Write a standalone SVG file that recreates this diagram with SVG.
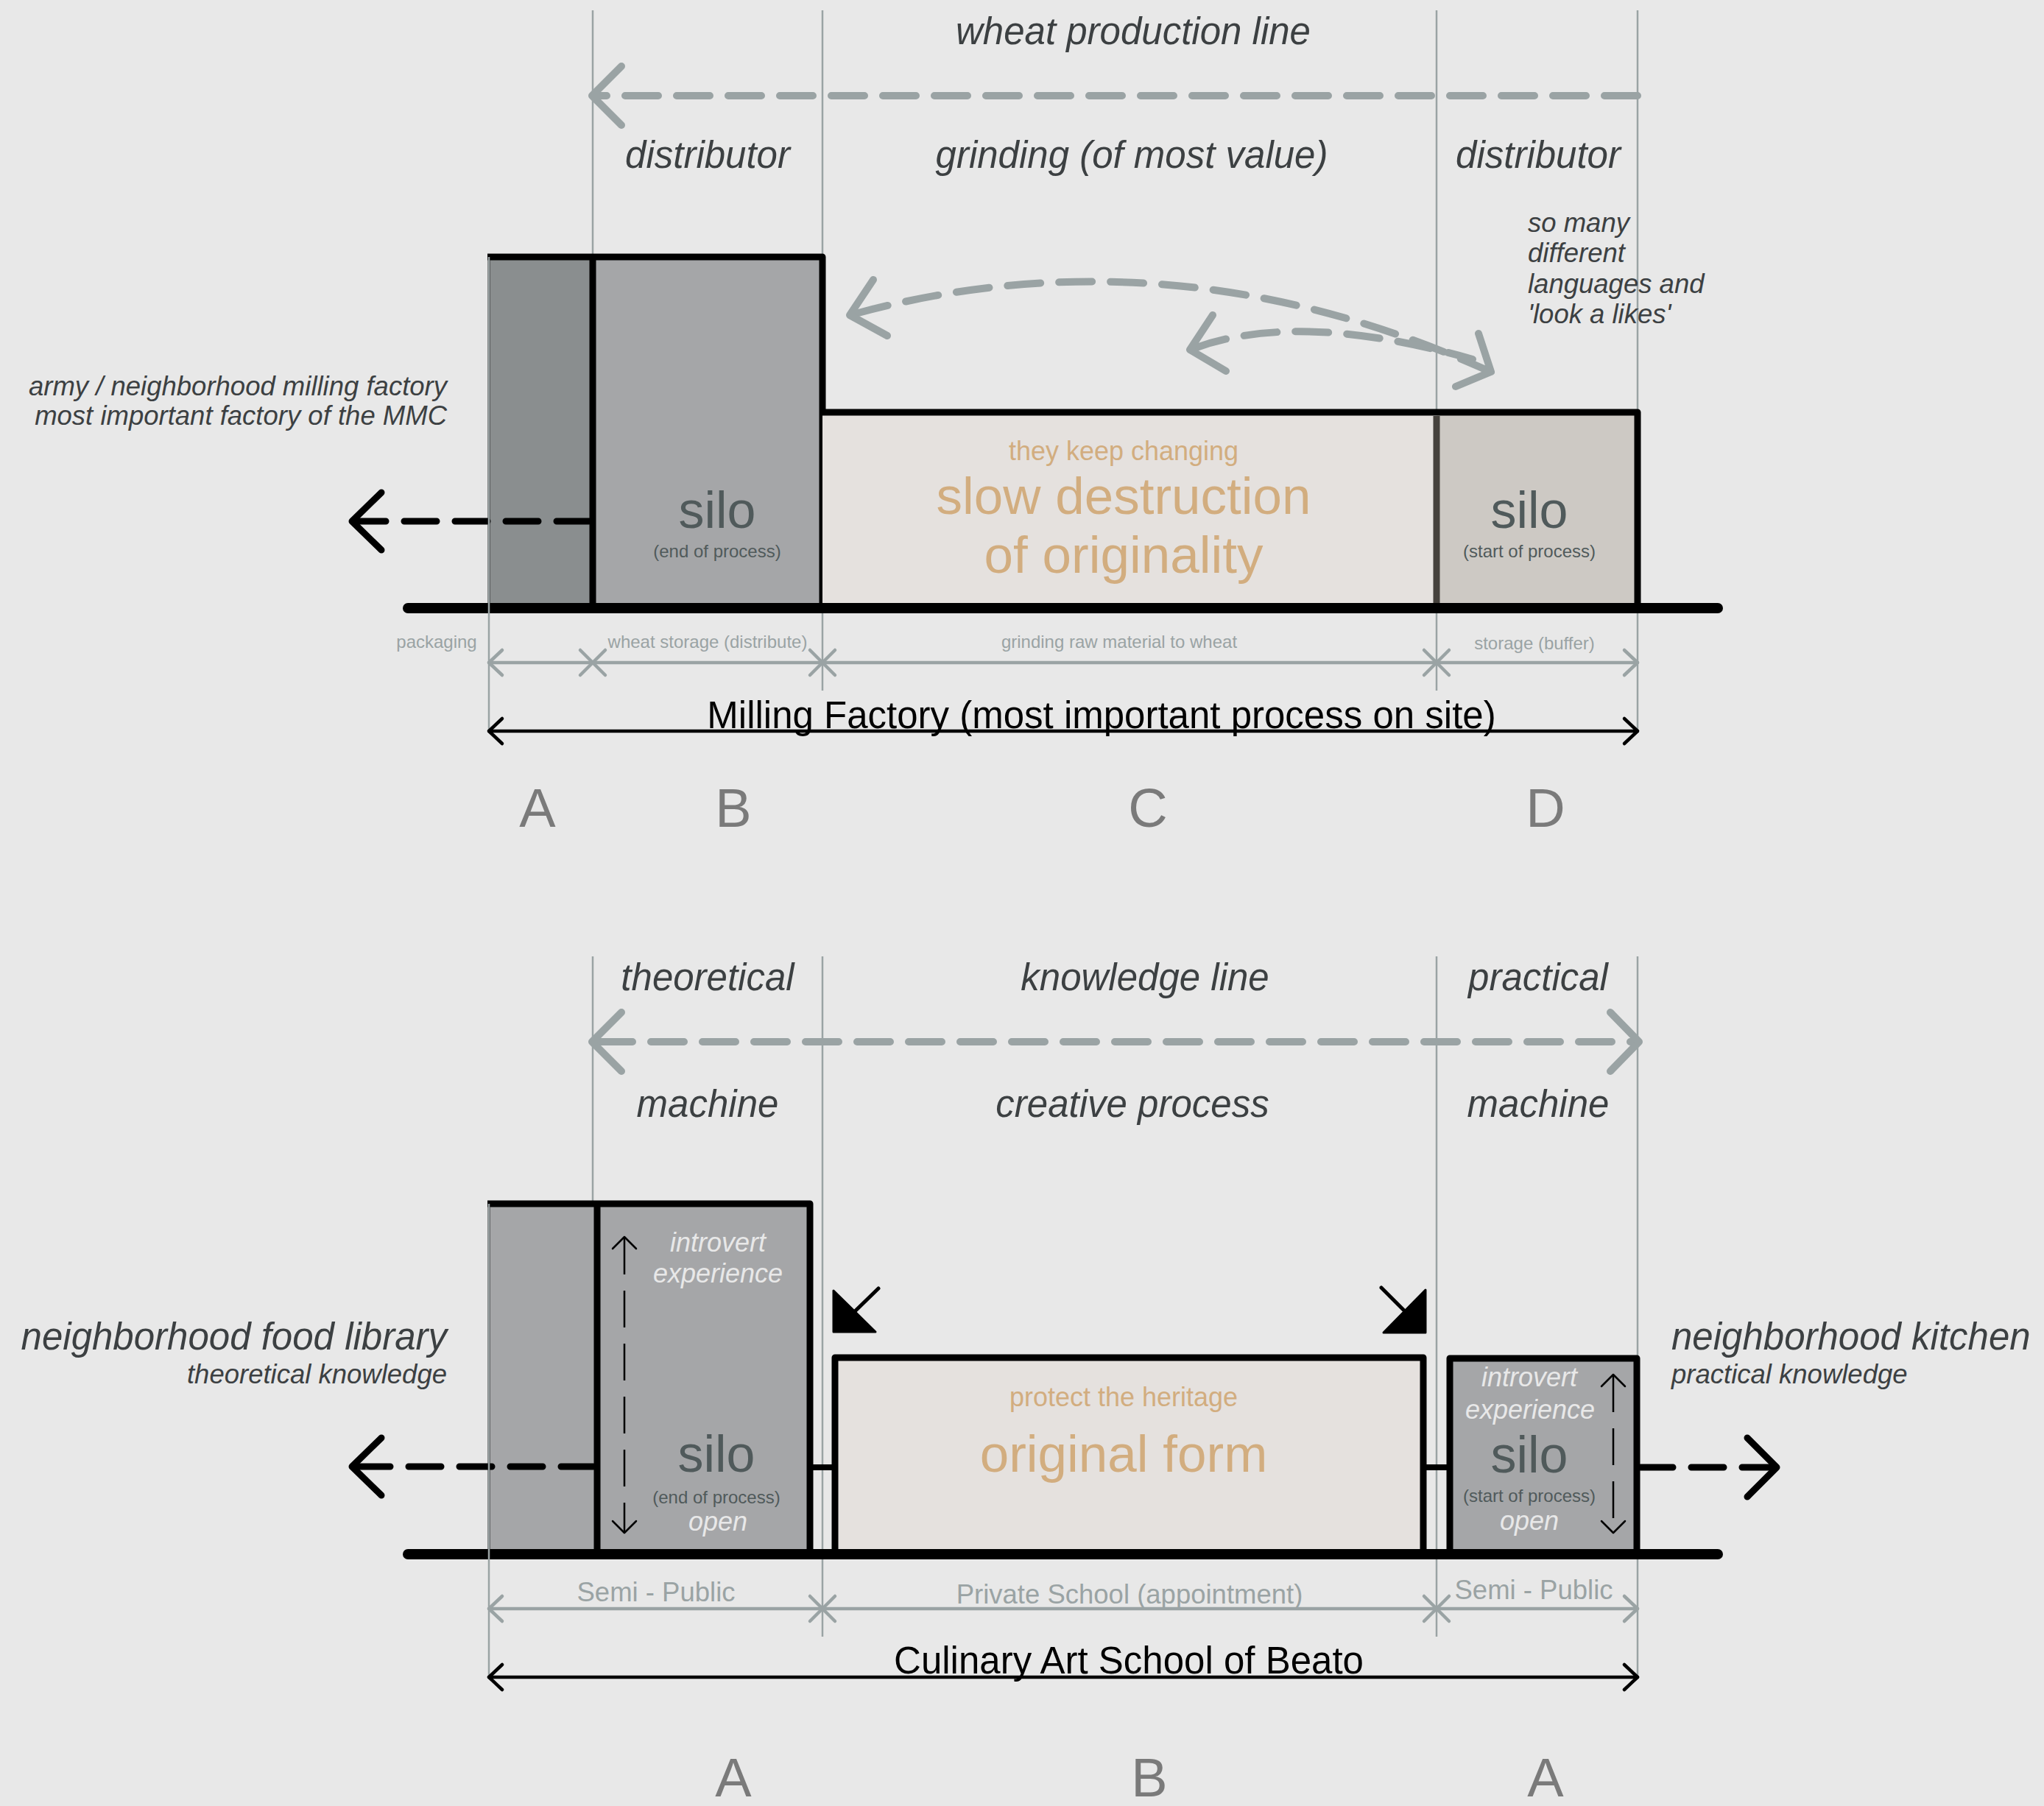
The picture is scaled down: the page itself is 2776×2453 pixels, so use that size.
<svg xmlns="http://www.w3.org/2000/svg" width="2776" height="2453" viewBox="0 0 2776 2453">
<style>
text{font-family:"Liberation Sans",Arial,sans-serif}
.h50{font-size:51px;fill:#3c4042;font-style:italic;text-anchor:middle}
.s36{font-size:36.5px;fill:#3c4042;font-style:italic}
.tan36{font-size:36px;fill:#d2ad7f;text-anchor:middle}
.tan70{font-size:71px;fill:#d2ad7f;text-anchor:middle}
.silo{font-size:70px;fill:#505a5b;text-anchor:middle}
.sub{font-size:24px;fill:#505a5b;text-anchor:middle}
.wt{font-size:36px;fill:#e8e8e8;font-style:italic;text-anchor:middle}
.dim24{font-size:24px;fill:#9aa3a4;text-anchor:middle}
.dim36{font-size:36.5px;fill:#9aa3a4;text-anchor:middle}
.big{font-size:51px;fill:#000;text-anchor:middle}
.let{font-size:74px;fill:#7a7a7a;text-anchor:middle}
text.end{text-anchor:end}
text.start{text-anchor:start}
.guide{stroke:#9aa3a4;stroke-width:2.5;fill:none}
.gdim{stroke:#9aa3a4;stroke-width:4.5;fill:none;stroke-linecap:round;stroke-linejoin:round}
.bdim{stroke:#000;stroke-width:4.5;fill:none;stroke-linecap:round;stroke-linejoin:round}
.gdash{stroke:#9aa3a4;stroke-width:10;fill:none;stroke-linecap:round;stroke-dasharray:45 25}
.ghead{stroke:#9aa3a4;stroke-width:10;fill:none;stroke-linecap:round;stroke-linejoin:round}
.bdash{stroke:#000;stroke-width:9;fill:none;stroke-linecap:round;stroke-dasharray:44 25}
.bhead{stroke:#000;stroke-width:9;fill:none;stroke-linecap:round;stroke-linejoin:round}
.edge{stroke:#000;stroke-width:9;fill:none;stroke-linejoin:round;stroke-linecap:butt}
.ground{stroke:#000;stroke-width:14;stroke-linecap:round}
.thin{stroke:#000;stroke-width:2.5;fill:none;stroke-linecap:round;stroke-linejoin:round}
.thindash{stroke:#000;stroke-width:2.5;fill:none;stroke-dasharray:50 22}
</style>
<rect x="0" y="0" width="2776" height="2453" fill="#e8e8e8"/>

<g id="guides">
<line class="guide" x1="805" y1="14" x2="805" y2="349"/>
<line class="guide" x1="1117" y1="14" x2="1117" y2="938"/>
<line class="guide" x1="1951" y1="14" x2="1951" y2="938"/>
<line class="guide" x1="2224" y1="14" x2="2224" y2="993"/>
<line class="guide" x1="805" y1="1299" x2="805" y2="1635"/>
<line class="guide" x1="1117" y1="1299" x2="1117" y2="2223"/>
<line class="guide" x1="1951" y1="1299" x2="1951" y2="2223"/>
<line class="guide" x1="2224" y1="1299" x2="2224" y2="2278"/>
</g>

<!-- TOP SECTION -->
<g id="top-titles">
<text class="h50" x="1539" y="60">wheat production line</text>
<text class="h50" x="961" y="228">distributor</text>
<text class="h50" x="1537" y="228">grinding (of most value)</text>
<text class="h50" x="2089" y="228">distributor</text>
<text class="s36" x="2075" y="315">so many</text>
<text class="s36" x="2075" y="356">different</text>
<text class="s36" x="2075" y="398">languages and</text>
<text class="s36" x="2075" y="439">'look a likes'</text>
<text class="s36 end" x="607" y="537">army / neighborhood milling factory</text>
<text class="s36 end" x="607" y="577">most important factory of the MMC</text>
</g>

<g id="top-A">
<rect x="664" y="349" width="141" height="476" fill="#8a8e8f"/>
<line x1="664" y1="349" x2="664" y2="825" stroke="#000" stroke-width="3"/>
</g>
<g id="top-B">
<rect x="805" y="349" width="312" height="476" fill="#a5a6a8"/>
<path class="edge" d="M662 349 H1117 V825"/>
<line class="edge" x1="805" y1="349" x2="805" y2="825"/>
<text class="silo" x="974" y="717">silo</text>
<text class="sub" x="974" y="757">(end of process)</text>
</g>
<g id="top-C">
<rect x="1117" y="560" width="834" height="265" fill="#e5e1de"/>
<path class="edge" d="M1117 560 H1951"/>
<text class="tan36" x="1526" y="625">they keep changing</text>
<text class="tan70" x="1526" y="698">slow destruction</text>
<text class="tan70" x="1526" y="778">of originality</text>
</g>
<g id="top-D">
<rect x="1951" y="560" width="273" height="265" fill="#cdc9c4"/>
<path class="edge" d="M1951 560 H2224 V825"/>
<line x1="1951" y1="565" x2="1951" y2="825" stroke="#45413c" stroke-width="9"/>
<text class="silo" x="2077" y="717">silo</text>
<text class="sub" x="2077" y="757">(start of process)</text>
</g>
<line id="top-ground" class="ground" x1="554" y1="826" x2="2333" y2="826"/>

<g id="top-connectors">
<path class="gdash" d="M2224 130 H812"/>
<path class="ghead" d="M844 90 L804 130 L844 170"/>
<path class="gdash" d="M1162 426 Q1590 310 2020 503"/>
<path class="ghead" d="M1186 380 L1154 428 L1205 456"/>
<path class="ghead" d="M2008 453 L2025 505 L1977 525"/>
<path class="gdash" d="M1622 473 Q1765 421 2000 488"/>
<path class="ghead" d="M1647 428 L1616 475 L1665 504"/>
<path class="bdash" d="M800 708 H486"/>
<path class="bhead" d="M518 669 L478 708 L518 747"/>
</g>

<g id="top-dims">
<line class="guide" x1="664" y1="349" x2="664" y2="993"/>
<line class="gdim" x1="664" y1="900" x2="2224" y2="900"/>
<path class="gdim" d="M682 883 L664 900 L682 917"/>
<path class="gdim" d="M788 883 L822 917 M822 883 L788 917"/>
<path class="gdim" d="M1100 883 L1134 917 M1134 883 L1100 917"/>
<path class="gdim" d="M1934 883 L1968 917 M1968 883 L1934 917"/>
<path class="gdim" d="M2206 883 L2224 900 L2206 917"/>
<text class="dim24" x="593" y="880">packaging</text>
<text class="dim24" x="961" y="880">wheat storage (distribute)</text>
<text class="dim24" x="1520" y="880">grinding raw material to wheat</text>
<text class="dim24" x="2084" y="882">storage (buffer)</text>
<line class="bdim" x1="664" y1="993" x2="2224" y2="993"/>
<path class="bdim" d="M682 976 L664 993 L682 1010"/>
<path class="bdim" d="M2206 976 L2224 993 L2206 1010"/>
<text class="big" x="1496" y="989">Milling Factory (most important process on site)</text>
</g>
<g id="top-letters">
<text class="let" x="730" y="1123">A</text>
<text class="let" x="996" y="1123">B</text>
<text class="let" x="1559" y="1123">C</text>
<text class="let" x="2099" y="1123">D</text>
</g>

<!-- BOTTOM SECTION -->
<g id="bottom-titles">
<text class="h50" x="961" y="1345">theoretical</text>
<text class="h50" x="1555" y="1345">knowledge line</text>
<text class="h50" x="2089" y="1345">practical</text>
<text class="h50" x="961" y="1517">machine</text>
<text class="h50" x="1538" y="1517">creative process</text>
<text class="h50" x="2089" y="1517">machine</text>
<text class="h50 end" x="607" y="1833">neighborhood food library</text>
<text class="s36 end" x="607" y="1879">theoretical knowledge</text>
<text class="h50 start" x="2270" y="1833">neighborhood kitchen</text>
<text class="s36 start" x="2270" y="1879">practical knowledge</text>
</g>

<g id="bottom-A">
<rect x="664" y="1635" width="436" height="475" fill="#a5a6a8"/>
<line x1="664" y1="1635" x2="664" y2="2110" stroke="#000" stroke-width="3"/>
<path class="edge" d="M662 1635 H1100 V2110"/>
<line class="edge" x1="811" y1="1635" x2="811" y2="2110"/>
<line class="thindash" x1="848" y1="1681" x2="848" y2="2081"/>
<path class="thin" d="M832 1696 L848 1680 L864 1696"/>
<path class="thin" d="M832 2066 L848 2082 L864 2066"/>
<text class="wt" x="975" y="1700">introvert</text>
<text class="wt" x="975" y="1742">experience</text>
<text class="silo" x="973" y="1999">silo</text>
<text class="sub" x="973" y="2042">(end of process)</text>
<text class="wt" x="975" y="2079">open</text>
</g>
<g id="bottom-B">
<rect x="1134" y="1844" width="799" height="266" fill="#e5e1de"/>
<path class="edge" d="M1134 2110 V1844 H1933 V2110"/>
<text class="tan36" x="1526" y="1910">protect the heritage</text>
<text class="tan70" x="1526" y="1999">original form</text>
</g>
<g id="bottom-A2">
<rect x="1969" y="1845" width="254" height="265" fill="#a5a6a8"/>
<path class="edge" d="M1969 2110 V1845 H2223 V2110"/>
<line class="thindash" x1="2191" y1="1868" x2="2191" y2="2081"/>
<path class="thin" d="M2175 1883 L2191 1867 L2207 1883"/>
<path class="thin" d="M2175 2066 L2191 2082 L2207 2066"/>
<text class="wt" x="2077" y="1883">introvert</text>
<text class="wt" x="2078" y="1927">experience</text>
<text class="silo" x="2077" y="2000">silo</text>
<text class="sub" x="2077" y="2040">(start of process)</text>
<text class="wt" x="2077" y="2078">open</text>
</g>
<line id="bottom-ground" class="ground" x1="554" y1="2111" x2="2333" y2="2111"/>

<g id="bottom-connectors">
<line x1="1100" y1="1993" x2="1134" y2="1993" stroke="#000" stroke-width="8"/>
<line x1="1933" y1="1993" x2="1969" y2="1993" stroke="#000" stroke-width="8"/>
<path class="gdash" d="M814 1415 H2216"/>
<path class="ghead" d="M844 1375 L804 1415 L844 1455"/>
<path class="ghead" d="M2187 1375 L2226 1415 L2187 1455"/>
<path class="bdash" d="M806 1992 H486"/>
<path class="bhead" d="M518 1953 L478 1992 L518 2031"/>
<path class="bdash" d="M2228 1993 H2405"/>
<path class="bhead" d="M2373 1953 L2413 1993 L2373 2033"/>
<polygon points="1132,1753 1132,1809 1189,1809" fill="#000" stroke="#000" stroke-width="3" stroke-linejoin="round"/>
<line x1="1193" y1="1750" x2="1156" y2="1786" stroke="#000" stroke-width="5" stroke-linecap="round"/>
<polygon points="1936,1752 1936,1810 1879,1810" fill="#000" stroke="#000" stroke-width="3" stroke-linejoin="round"/>
<line x1="1876" y1="1749" x2="1910" y2="1783" stroke="#000" stroke-width="5" stroke-linecap="round"/>
</g>

<g id="bottom-dims">
<line class="guide" x1="664" y1="1635" x2="664" y2="2278"/>
<line class="gdim" x1="664" y1="2185" x2="2224" y2="2185"/>
<path class="gdim" d="M682 2168 L664 2185 L682 2202"/>
<path class="gdim" d="M1100 2168 L1134 2202 M1134 2168 L1100 2202"/>
<path class="gdim" d="M1934 2168 L1968 2202 M1968 2168 L1934 2202"/>
<path class="gdim" d="M2206 2168 L2224 2185 L2206 2202"/>
<text class="dim36" x="891" y="2175">Semi - Public</text>
<text class="dim36" x="1534" y="2178">Private School (appointment)</text>
<text class="dim36" x="2083" y="2172">Semi - Public</text>
<line class="bdim" x1="664" y1="2278" x2="2224" y2="2278"/>
<path class="bdim" d="M682 2261 L664 2278 L682 2295"/>
<path class="bdim" d="M2206 2261 L2224 2278 L2206 2295"/>
<text class="big" x="1533" y="2273">Culinary Art School of Beato</text>
</g>
<g id="bottom-letters">
<text class="let" x="996" y="2440">A</text>
<text class="let" x="1561" y="2440">B</text>
<text class="let" x="2099" y="2440">A</text>
</g>
</svg>
